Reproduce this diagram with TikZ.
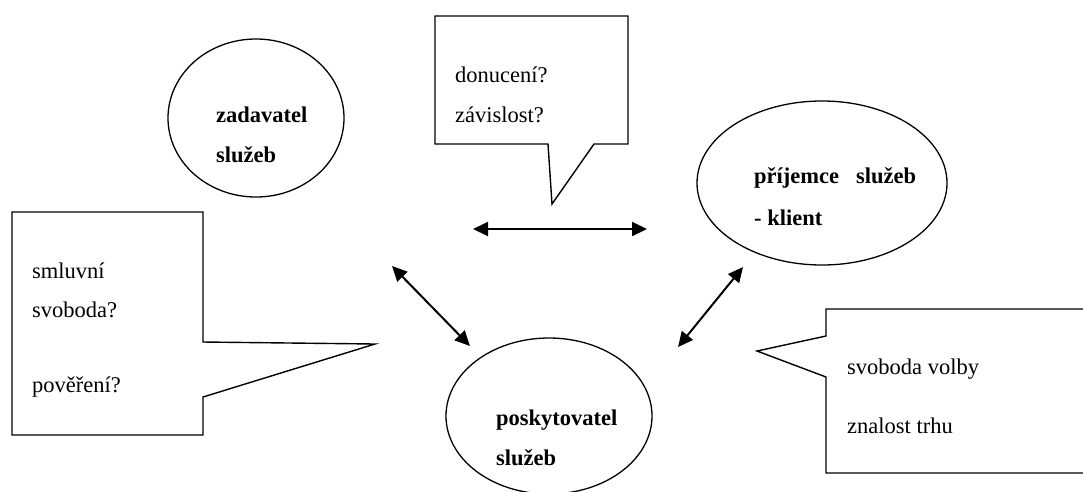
\documentclass[tikz,border=0pt]{standalone}
\usepackage{fontspec}
\setmainfont{Liberation Serif}
\usetikzlibrary{arrows.meta,shapes.geometric}
\tikzset{
  outline/.style={draw=black, line width=1.4pt, line join=miter},
  ell/.style={ellipse, draw=black, line width=1.3pt, inner sep=0pt},
  txt/.style={inner sep=0pt, anchor=base west, font=\fontsize{22.5}{27}\selectfont},
  btxt/.style={txt, font=\fontsize{22.5}{27}\selectfont\bfseries},
  dbl/.style={line width=2pt, {Triangle[length=15pt,width=14pt]}-{Triangle[length=15pt,width=14pt]}}
}
\begin{document}
\begin{tikzpicture}[x=1pt,y=-1pt]
\useasboundingbox (0,0) rectangle (1083,491);
\clip (0,0) rectangle (1083,491);
\fill[white] (0,0) rectangle (1083,491);

% ellipses
\node[ell, minimum width=176pt, minimum height=158pt] (zad) at (256,118) {};
\node[ell, minimum width=250pt, minimum height=164pt] (pri) at (822,183) {};
\node[ell, minimum width=206pt, minimum height=156pt] (pos) at (549,416) {};

\node[btxt] (zad1) at (216,122) {zadavatel};
\node[btxt] (zad2) at (216,162) {služeb};
\node[btxt] (pri1) at (754,183) {příjemce\ \ \ služeb};
\node[btxt] (pri2) at (754,225) {- klient};
\node[btxt] (pos1) at (496,425) {poskytovatel};
\node[btxt] (pos2) at (496,465) {služeb};

% callouts
\draw[outline] (435,16) -- (628,16) -- (628,144) -- (594,144) -- (552,204) -- (548,144) -- (435,144) -- cycle;
\node[txt] (c1a) at (455,82) {donucení?};
\node[txt] (c1b) at (455,122) {závislost?};

\draw[outline] (12,212) -- (203,212) -- (203,342) -- (375,344) -- (203,397) -- (203,435) -- (12,435) -- cycle;
\node[txt] (c2a) at (32,278) {smluvní};
\node[txt] (c2b) at (32,317) {svoboda?};
\node[txt] (c2c) at (32,392) {pověření?};

\draw[outline] (826,309) -- (1100,309) -- (1100,473) -- (826,473) -- (826,377) -- (757,351) -- (826,336) -- cycle;
\node[txt] (c3a) at (847,374) {svoboda volby};
\node[txt] (c3b) at (847,433) {znalost trhu};

% arrows
\coordinate (h1) at (473,229);
\coordinate (h2) at (647,229);
\coordinate (l1) at (392,266);
\coordinate (l2) at (470,346);
\coordinate (r1) at (743,267);
\coordinate (r2) at (678,347);
\draw[dbl] (h1) -- (h2);
\draw[dbl] (l1) -- (l2);
\draw[dbl] (r1) -- (r2);
\end{tikzpicture}
\end{document}
